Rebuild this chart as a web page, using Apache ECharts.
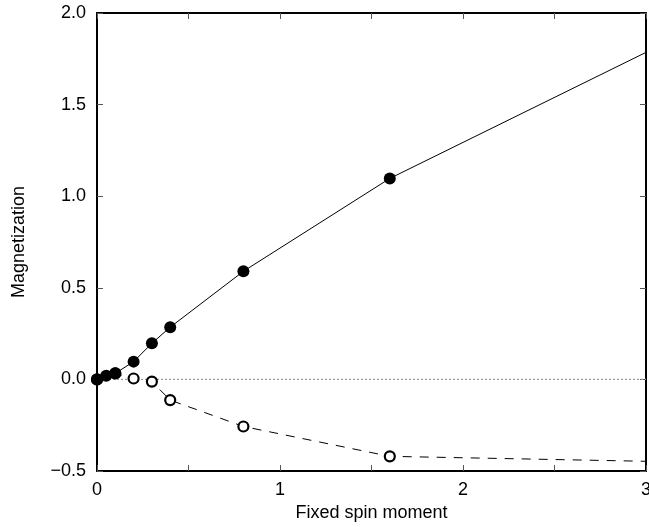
<!DOCTYPE html>
<html><head><meta charset="utf-8">
<script src="https://cdn.jsdelivr.net/npm/echarts@6/dist/echarts.min.js"></script>
<style>html,body{margin:0;padding:0;background:#fff;overflow:hidden}#c{width:649px;height:527px}</style>
</head><body><div id="c"></div>
<script>
// Filled circles (total magnetization)
const filledX = [0, 0.05, 0.1, 0.2, 0.3, 0.4, 0.8, 1.6];
const filledY = [0, 0.02, 0.033, 0.097, 0.197, 0.285, 0.59, 1.097];
const filledEnd = [3, 1.785];
// Open circles
const openX = [0, 0.1, 0.2, 0.3, 0.4, 0.8, 1.6];
const openY = [0, 0.033, 0.005, -0.012, -0.113, -0.257, -0.42];
const openEnd = [3, -0.447];
const zeroLine = [[0, 0], [3, 0]];
const xTickLabels = ['0', '1', '2', '3'];
const yTickLabels = ['−0.5', '0.0', '0.5', '1.0', '1.5', '2.0'];

const font = 'Liberation Sans, Arial, Helvetica, sans-serif';
function pts(xs, ys, end) {
  const d = xs.map((x, i) => [x, ys[i]]);
  if (end) d.push({value: end, symbol: 'none'});
  return d;
}
const chart = echarts.init(document.getElementById('c'), null, {renderer: 'canvas'});
const axisCommon = {
  type: 'value', min: 0, max: 3, interval: 0.5,
  splitLine: {show: false},
  axisLine: {show: true, onZero: false, lineStyle: {color: '#000', width: 2}},
  axisTick: {show: true, inside: true, length: 6, lineStyle: {color: '#555', width: 1}}
};
chart.setOption({
  animation: false,
  backgroundColor: '#fff',
  grid: {left: 97, top: 13, right: 3, bottom: 56, containLabel: false, outerBoundsMode: 'none'},
  xAxis: [
    Object.assign({}, axisCommon, {
      position: 'bottom',
      name: 'Fixed spin moment', nameLocation: 'middle', nameGap: 33,
      nameTextStyle: {fontFamily: font, fontSize: 18, color: '#000'},
      axisLabel: {fontFamily: font, fontSize: 18, color: '#000', margin: 10,
        formatter: v => (Math.abs(v - Math.round(v)) < 1e-9 ? xTickLabels[Math.round(v)] : '')}
    }),
    Object.assign({}, axisCommon, {position: 'top', axisLabel: {show: false}})
  ],
  yAxis: [
    Object.assign({}, axisCommon, {
      min: -0.5, max: 2.0, interval: 0.5, position: 'left',
      name: 'Magnetization', nameLocation: 'middle', nameGap: 69, nameRotate: 90,
      nameTextStyle: {fontFamily: font, fontSize: 18, color: '#000'},
      axisLabel: {fontFamily: font, fontSize: 18, color: '#000', margin: 11,
        formatter: v => yTickLabels[Math.round((v + 0.5) / 0.5)]}
    }),
    Object.assign({}, axisCommon, {min: -0.5, max: 2.0, interval: 0.5, position: 'right', axisLabel: {show: false}})
  ],
  series: [
    {type: 'line', data: zeroLine, symbol: 'none', silent: true,
      lineStyle: {color: '#999', width: 1.2, type: [2, 2]}, z: 1},
    {type: 'line', data: pts(openX, openY, openEnd), symbol: 'circle', symbolSize: 10,
      itemStyle: {color: '#fff', borderColor: '#000', borderWidth: 2.2},
      lineStyle: {color: '#000', width: 1, type: [9, 8]}, z: 2},
    {type: 'line', data: pts(filledX, filledY, filledEnd), symbol: 'circle', symbolSize: 12,
      itemStyle: {color: '#000', borderColor: '#000', borderWidth: 0},
      lineStyle: {color: '#000', width: 1}, z: 3}
  ]
});
</script></body></html>
